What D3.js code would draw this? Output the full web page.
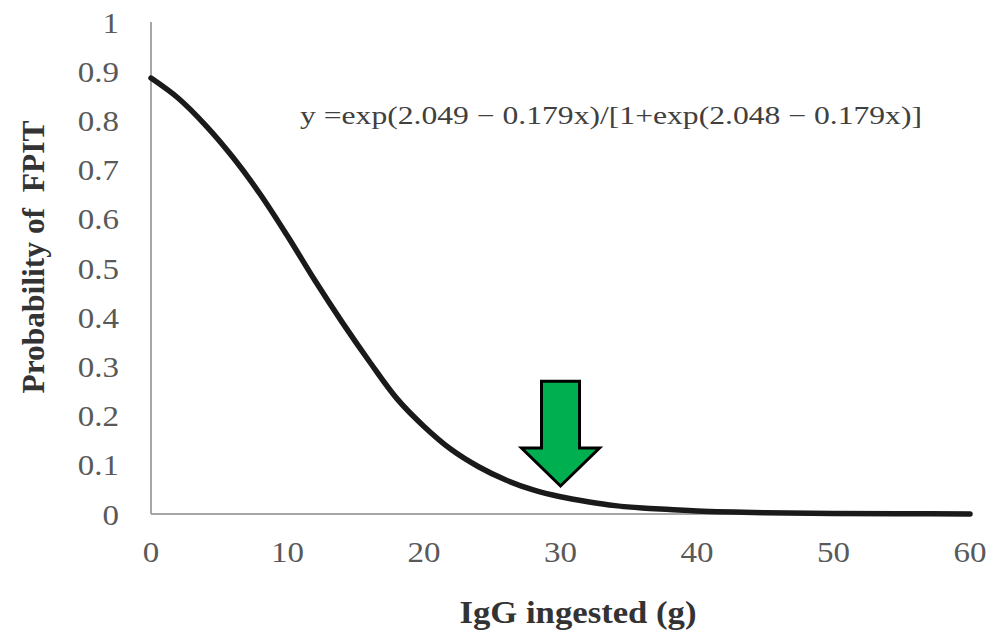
<!DOCTYPE html>
<html>
<head>
<meta charset="utf-8">
<script src="https://cdn.jsdelivr.net/npm/d3@7"></script>
<style>
  body { margin: 0; background: #fff; }
  svg text { font-family: "Liberation Serif", "Times New Roman", serif; }
</style>
</head>
<body>
<svg id="chart" width="990" height="633"></svg>
<script>
// IgG ingested (g) vs probability of FPIT
let igg = [0, 2, 4, 6, 8, 10, 12, 14, 16, 18, 20, 22, 24, 26, 28, 30, 32, 34, 36, 38, 40, 45, 50, 55, 60]
let prob = [0.886, 0.845, 0.79, 0.725, 0.65, 0.565, 0.475, 0.39, 0.31, 0.235, 0.178, 0.131, 0.096,
  0.069, 0.049, 0.035, 0.025, 0.017, 0.012, 0.009, 0.006, 0.0025, 0.001, 0.0004, 0.0002]
let xTicks = [0, 10, 20, 30, 40, 50, 60]
let yTicks = [0, 0.1, 0.2, 0.3, 0.4, 0.5, 0.6, 0.7, 0.8, 0.9, 1]
let equation = 'y =exp(2.049 \u2212 0.179x)/[1+exp(2.048 \u2212 0.179x)]'
let arrowAt = { x: 30, tip: 0.057, top: 0.27 }

let svg = d3.select('#chart')
let x = d3.scaleLinear().domain([0, 60]).range([151, 970])
let y = d3.scaleLinear().domain([0, 1]).range([514, 22])

let axisColor = '#a6a6a6'
let labelColor = '#595959'
let stretch = 1.1 // the picture's glyphs are a little wide

// axis lines
svg.append('line')
  .attr('x1', x(0)).attr('x2', x(0))
  .attr('y1', y(1)).attr('y2', y(0))
  .attr('stroke', axisColor).attr('stroke-width', 2)
svg.append('line')
  .attr('x1', x(0)).attr('x2', x(60) + 2)
  .attr('y1', y(0)).attr('y2', y(0))
  .attr('stroke', axisColor).attr('stroke-width', 2)

// tick labels
svg.selectAll('.ytick')
  .data(yTicks)
  .enter()
  .append('text')
  .attr('class', 'ytick')
  .attr('transform', d => `translate(119,${y(d)}) scale(${stretch},1)`)
  .attr('dy', '0.35em')
  .attr('text-anchor', 'end')
  .attr('font-size', 30)
  .attr('fill', labelColor)
  .text(d => d3.format('')(d))

svg.selectAll('.xtick')
  .data(xTicks)
  .enter()
  .append('text')
  .attr('class', 'xtick')
  .attr('transform', d => `translate(${x(d)},551) scale(${stretch},1)`)
  .attr('dy', '0.35em')
  .attr('text-anchor', 'middle')
  .attr('font-size', 30)
  .attr('fill', labelColor)
  .text(d => d)

// axis titles
svg.append('text')
  .attr('transform', 'translate(44,257) rotate(-90)')
  .attr('text-anchor', 'middle')
  .attr('font-size', 31)
  .attr('font-weight', 'bold')
  .attr('fill', '#333')
  .attr('xml:space', 'preserve')
  .attr('textLength', 273)
  .attr('lengthAdjust', 'spacingAndGlyphs')
  .text('Probability of  FPIT')

svg.append('text')
  .attr('x', 578)
  .attr('y', 623)
  .attr('text-anchor', 'middle')
  .attr('font-size', 31)
  .attr('font-weight', 'bold')
  .attr('fill', '#333')
  .attr('textLength', 237)
  .attr('lengthAdjust', 'spacingAndGlyphs')
  .text('IgG ingested (g)')

// curve
let line = d3.line()
  .x((d, i) => x(igg[i]))
  .y(d => y(d))
  .curve(d3.curveCatmullRom.alpha(0.5))

svg.append('path')
  .datum(prob)
  .attr('d', line)
  .attr('fill', 'none')
  .attr('stroke', '#1a1a1a')
  .attr('stroke-width', 5.5)
  .attr('stroke-linecap', 'round')

// equation
svg.append('text')
  .attr('x', 300)
  .attr('y', 124)
  .attr('font-size', 25)
  .attr('fill', '#404040')
  .attr('textLength', 622)
  .attr('lengthAdjust', 'spacingAndGlyphs')
  .text(equation)

// green arrow
let ax = x(arrowAt.x)
let tipY = y(arrowAt.tip)
let topY = y(arrowAt.top)
let shaftW = 19
let headW = 39
let headH = 38
let arrowPts = [
  [ax - shaftW, topY],
  [ax + shaftW, topY],
  [ax + shaftW, tipY - headH],
  [ax + headW, tipY - headH],
  [ax, tipY],
  [ax - headW, tipY - headH],
  [ax - shaftW, tipY - headH]
]
svg.append('polygon')
  .attr('points', arrowPts.map(p => p.join(',')).join(' '))
  .attr('fill', '#00b050')
  .attr('stroke', '#000')
  .attr('stroke-width', 3)
  .attr('stroke-linejoin', 'miter')
</script>
</body>
</html>
